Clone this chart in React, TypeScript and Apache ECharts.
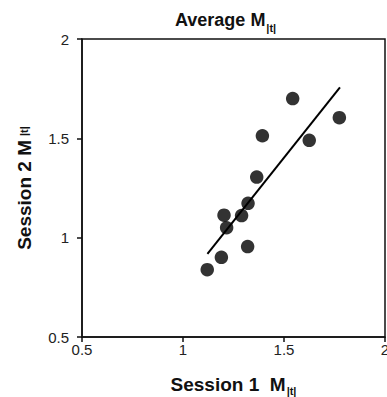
import React, { useEffect, useRef } from "react";
import * as echarts from "echarts";

const session1 = [1.543, 1.774, 1.393, 1.625, 1.365, 1.322, 1.29, 1.203, 1.216, 1.32, 1.19, 1.12];
const session2 = [1.70, 1.604, 1.513, 1.49, 1.305, 1.173, 1.111, 1.113, 1.05, 0.955, 0.901, 0.839];
const fitX = [1.121, 1.777];
const fitY = [0.918, 1.757];
const axisTicks = [0.5, 1, 1.5, 2];

export default function App() {
  const ref = useRef<HTMLDivElement>(null);
  useEffect(() => {
    if (!ref.current) return;
    const chart = echarts.init(ref.current, undefined, { renderer: "svg" });
    const font = "Liberation Sans, Arial, Helvetica, sans-serif";
    const titleRich = {
      m: { fontSize: 18, fontWeight: "bold", color: "#111", fontFamily: font, lineHeight: 22, verticalAlign: "top" },
      s: { fontSize: 11, fontWeight: "bold", color: "#111", fontFamily: font, lineHeight: 11, padding: [11, 0, 0, 1], verticalAlign: "top" },
    };
    const xRich = {
      m: { fontSize: 19, fontWeight: "bold", color: "#111", fontFamily: font, lineHeight: 23, verticalAlign: "top" },
      s: { fontSize: 11, fontWeight: "bold", color: "#111", fontFamily: font, lineHeight: 11, padding: [10, 0, 0, 1], verticalAlign: "top" },
    };
    const yRich = {
      m: { fontSize: 19, fontWeight: "bold", color: "#111", fontFamily: font, lineHeight: 24, verticalAlign: "middle" },
      s: { fontSize: 11, fontWeight: "bold", color: "#111", fontFamily: font, lineHeight: 11, padding: [0, 0, 0, 4], verticalAlign: "middle" },
    };
    chart.setOption({
      animation: false,
      backgroundColor: "#fff",
      title: {
        text: "{m|Average M}{s||t|}",
        left: 170,
        top: 6,
        textStyle: { rich: titleRich },
      },
      grid: {
        left: 82,
        top: 39,
        right: 2,
        bottom: 60,
        show: true,
        borderColor: "#111",
        borderWidth: 1.5,
        backgroundColor: "transparent",
        containLabel: false,
        outerBoundsMode: "none",
      },
      xAxis: {
        type: "value",
        min: axisTicks[0],
        max: axisTicks[axisTicks.length - 1],
        interval: 0.5,
        name: "{m|Session 1  M}{s||t|}",
        nameLocation: "middle",
        nameGap: 38,
        nameTextStyle: { rich: xRich },
        axisLine: { show: true, lineStyle: { color: "#111", width: 1.5 } },
        axisTick: { show: true, length: 5, lineStyle: { color: "#111", width: 1.5 } },
        axisLabel: { color: "#222", fontSize: 15, fontFamily: font, margin: 5 },
        splitLine: { show: false },
      },
      yAxis: {
        type: "value",
        min: axisTicks[0],
        max: axisTicks[axisTicks.length - 1],
        interval: 0.5,
        name: "{m|Session 2 M}{s||t|}",
        nameLocation: "middle",
        nameGap: 46,
        nameRotate: 90,
        nameTextStyle: { rich: yRich },
        axisLine: { show: true, lineStyle: { color: "#111", width: 1.5 } },
        axisTick: { show: true, length: 5, lineStyle: { color: "#111", width: 1.5 } },
        axisLabel: { color: "#222", fontSize: 15, fontFamily: font, margin: 13 },
        splitLine: { show: false },
      },
      series: [
        {
          type: "line",
          data: fitX.map((x, i) => [x, fitY[i]]),
          showSymbol: false,
          symbol: "none",
          lineStyle: { color: "#000", width: 2 },
          z: 2,
        },
        {
          type: "scatter",
          data: session1.map((x, i) => [x, session2[i]]),
          symbol: "circle",
          symbolSize: 13.5,
          itemStyle: { color: "#000" },
          z: 3,
        },
      ],
    });
    return () => chart.dispose();
  }, []);
  return <div ref={ref} style={{ width: 387, height: 397, position: "absolute", left: 0, top: 0 }} />;
}
